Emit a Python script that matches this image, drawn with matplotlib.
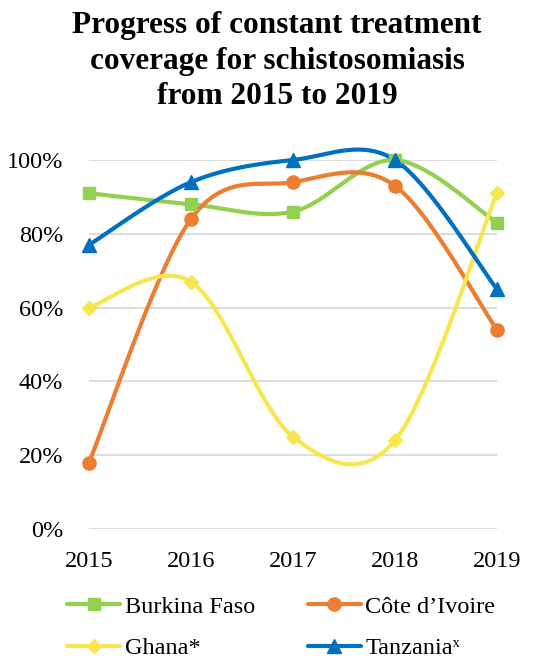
import numpy as np
import matplotlib
matplotlib.use("Agg")
import matplotlib.pyplot as plt
from matplotlib.lines import Line2D

plt.rcParams['font.family'] = ['Liberation Serif', 'DejaVu Serif']

years = [2015, 2016, 2017, 2018, 2019]
burkina_faso = [91, 88, 86, 100, 83]
cote_divoire = [18, 84, 94, 93, 54]
ghana = [60, 67, 25, 24, 91]
tanzania = [77, 94, 100, 100, 65]

series = [
    ("Burkina Faso", burkina_faso, "#92D050", "s", 8.5),
    ("Côte d\u2019Ivoire", cote_divoire, "#ED7D31", "o", 9.5),
    ("Ghana*", ghana, "#F7E64F", "D", 7.5),
    ("Tanzania\u02e3", tanzania, "#0070C0", "^", 10),
]


def smooth(xs, ys, n=40):
    """Catmull-Rom style cubic Bezier through every point (spreadsheet 'smoothed line')."""
    p = np.column_stack([xs, ys]).astype(float)
    ext = np.vstack([p[0], p, p[-1]])
    out = [p[:1]]
    t = np.linspace(0, 1, n)[1:, None]
    for i in range(len(p) - 1):
        p0, p1, p2, p3 = ext[i], ext[i + 1], ext[i + 2], ext[i + 3]
        c1 = p1 + (p2 - p0) / 6.0
        c2 = p2 - (p3 - p1) / 6.0
        seg = ((1 - t) ** 3) * p1 + 3 * ((1 - t) ** 2) * t * c1 + 3 * (1 - t) * t ** 2 * c2 + t ** 3 * p2
        out.append(seg)
    s = np.vstack(out)
    return s[:, 0], s[:, 1]


fig = plt.figure(figsize=(5.54, 6.6), dpi=100)
ax = fig.add_axes([0.1606, 0.1985, 0.7364, 0.5591])

handles = []
for name, vals, color, marker, ms in series:
    sx, sy = smooth(years, vals)
    ax.plot(sx, sy, color=color, lw=3.0, solid_capstyle='round', solid_joinstyle='round',
            zorder=3, clip_on=False)
    ax.plot(years, vals, linestyle='none', marker=marker, ms=ms, color=color,
            markeredgecolor=color, zorder=4, clip_on=False)
    handles.append(Line2D([], [], color=color, lw=3.0, marker=marker, ms=ms,
                          markeredgecolor=color, solid_capstyle='round'))

ax.set_xlim(2015, 2019)
ax.set_ylim(0, 100)
ax.set_yticks([0, 20, 40, 60, 80, 100])
ax.set_yticklabels([f"{v}%" for v in [0, 20, 40, 60, 80, 100]])
ax.set_xticks(years)
ax.set_xticklabels([str(y) for y in years])
ax.tick_params(axis='both', length=0, labelsize=17.5, colors='black')
ax.tick_params(axis='y', pad=18.5)
ax.tick_params(axis='x', pad=16)
for s in ax.spines.values():
    s.set_visible(False)
ax.grid(axis='y', color='#D9D9D9', lw=1.3, zorder=0)
ax.set_axisbelow(True)

fig.text(0.5, 1 - 11 / 660, "Progress of constant treatment\ncoverage for schistosomiasis\nfrom 2015 to 2019",
         ha='center', va='top', fontsize=22.5, fontweight='bold', linespacing=1.3)

order = [0, 2, 1, 3]
leg = fig.legend([handles[i] for i in order], [series[i][0] for i in order],
                 ncol=2, loc='center', bbox_to_anchor=(0.508, 0.049),
                 frameon=False, fontsize=17.5, handlelength=2.15, handletextpad=0.2,
                 columnspacing=2.2, labelspacing=0.8)

fig.savefig("out.png", dpi=100)
